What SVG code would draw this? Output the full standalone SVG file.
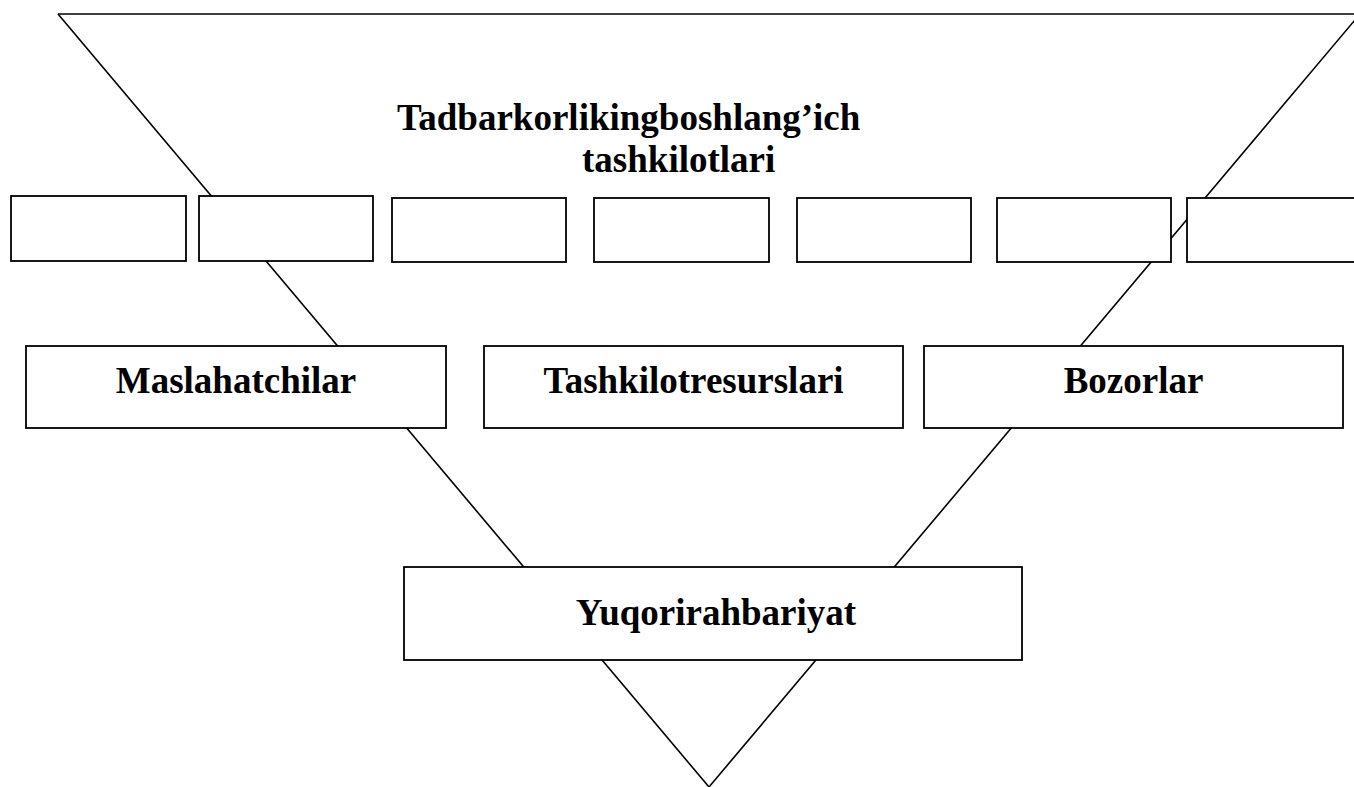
<svg xmlns="http://www.w3.org/2000/svg" width="1354" height="787" viewBox="0 0 1354 787">
  <style>
    .edge { fill: none; stroke: #000; stroke-width: 1.6; }
    .box { fill: #fff; stroke: #000; stroke-width: 1.8; }
    .lbl { font-family: "Liberation Serif", "Times New Roman", serif; font-weight: bold; font-size: 37px; fill: #000; }
  </style>
  <rect width="1354" height="787" fill="#fff"/>

  <!-- inverted funnel outline -->
  <g id="connectors">
    <line class="edge" x1="58" y1="14" x2="1360" y2="14" stroke-width="2.2"/>
    <line class="edge" x1="58" y1="14" x2="709" y2="787"/>
    <line class="edge" x1="1360" y1="14" x2="709" y2="787"/>
  </g>

  <g id="title">
    <text class="lbl" x="397" y="130">Tadbarkorlikingboshlang’ich</text>
    <text class="lbl" x="582" y="172">tashkilotlari</text>
  </g>

  <!-- row of empty cells -->
  <g id="cell-1"><rect class="box" x="11" y="196" width="175" height="65"/></g>
  <g id="cell-2"><rect class="box" x="199" y="196" width="174" height="65"/></g>
  <g id="cell-3"><rect class="box" x="392" y="198" width="174" height="64"/></g>
  <g id="cell-4"><rect class="box" x="594" y="198" width="175" height="64"/></g>
  <g id="cell-5"><rect class="box" x="797" y="198" width="174" height="64"/></g>
  <g id="cell-6"><rect class="box" x="997" y="198" width="174" height="64"/></g>
  <g id="cell-7"><rect class="box" x="1187" y="198" width="180" height="64"/></g>

  <g id="maslahatchilar">
    <rect class="box" x="26" y="346" width="420" height="82"/>
    <text class="lbl" x="236" y="393" text-anchor="middle">Maslahatchilar</text>
  </g>
  <g id="tashkilot-resurslari">
    <rect class="box" x="484" y="346" width="419" height="82"/>
    <text class="lbl" x="693.5" y="393" text-anchor="middle">Tashkilotresurslari</text>
  </g>
  <g id="bozorlar">
    <rect class="box" x="924" y="346" width="419" height="82"/>
    <text class="lbl" x="1133.5" y="393" text-anchor="middle">Bozorlar</text>
  </g>

  <g id="yuqori-rahbariyat">
    <rect class="box" x="404" y="567" width="618" height="93"/>
    <text class="lbl" x="716" y="625" text-anchor="middle">Yuqorirahbariyat</text>
  </g>
</svg>
